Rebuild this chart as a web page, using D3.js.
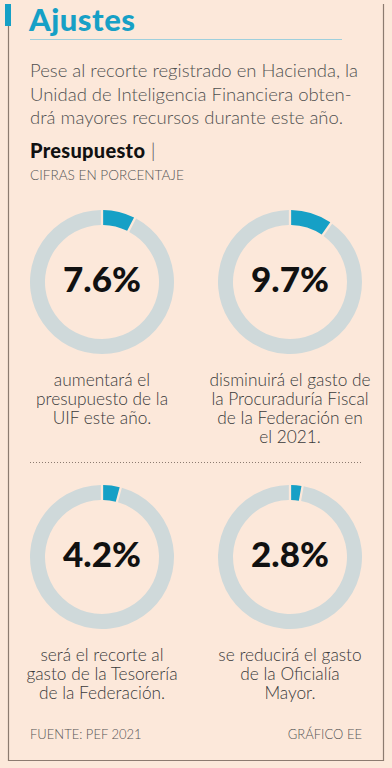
<!DOCTYPE html>
<html><head><meta charset="utf-8">
<script src="https://cdn.jsdelivr.net/npm/d3@7"></script>
<style>
html,body{margin:0;padding:0;background:#fce8da;}
svg{display:block;}
</style></head>
<body>
<svg id="c" width="392" height="768"></svg>
<script>
const categories = ["UIF", "Procuraduría Fiscal", "Tesorería", "Oficialía Mayor"];
const values = [7.6, 9.7, 4.2, 2.8];
const valueLabels = ["7.6%", "9.7%", "4.2%", "2.8%"];
const captions = [
  ["aumentará el", "presupuesto de la", "UIF este año."],
  ["disminuirá el gasto de", "la Procuraduría Fiscal", "de la Federación en", "el 2021."],
  ["será el recorte al", "gasto de la Tesorería", "de la Federación."],
  ["se reducirá el gasto", "de la Oficialía", "Mayor."]
];
const title = "Ajustes";
const intro = ["Pese al recorte registrado en Hacienda, la", "Unidad de Inteligencia Financiera obten-", "drá mayores recursos durante este año."];

const svg = d3.select("#c");
const FONT = "Lato, 'Open Sans', sans-serif";
const teal = "#16a0c6", grey = "#cfd9da", bg = "#fce8da", frame = "#8c7b70";

svg.append("rect").attr("width",392).attr("height",768).attr("fill",bg);
// frame
svg.append("path").attr("d","M8.5,26 V760.5 H383.5 V4").attr("fill","none").attr("stroke",frame).attr("stroke-width",1.2);
svg.append("rect").attr("x",5).attr("y",4).attr("width",6).attr("height",22).attr("fill",teal);

svg.append("text").attr("x",29).attr("y",31).text(title)
  .attr("font-family",FONT).attr("font-weight",900).attr("font-size",31).attr("letter-spacing",0.5).attr("fill",teal);
svg.append("line").attr("x1",30).attr("x2",342).attr("y1",39.5).attr("y2",39.5).attr("stroke","#9fcfdc").attr("stroke-width",1);

svg.append("g").selectAll("text").data(intro).join("text")
  .attr("x",30).attr("y",(d,i)=>77+i*23.5).text(d=>d)
  .attr("font-family",FONT).attr("font-size",18.5).attr("fill","#505050").attr("font-weight",300);

svg.append("text").attr("x",30).attr("y",158)
  .attr("font-family",FONT).attr("font-size",20).attr("fill","#111")
  .call(t=>{t.append("tspan").attr("font-weight",900).attr("letter-spacing",0.3).text("Presupuesto");
            t.append("tspan").attr("font-weight",300).attr("fill","#555").text(" |");});
svg.append("text").attr("x",30).attr("y",180).text("CIFRAS EN PORCENTAJE")
  .attr("font-family",FONT).attr("font-size",13.6).attr("fill","#555").attr("font-weight",300);

// dotted separator
svg.append("line").attr("x1",30).attr("x2",363).attr("y1",462.5).attr("y2",462.5)
  .attr("stroke","#8c7b70").attr("stroke-width",1).attr("stroke-dasharray","1,2");

const xPos = d3.scalePoint().domain([0,1]).range([102,290]);
const yPos = d3.scalePoint().domain([0,1]).range([282,557]);
const outerR = 72, innerR = 57;
const pie = d3.pie().sort(null).value(d=>d);
const arc = d3.arc().innerRadius(innerR).outerRadius(outerR).padAngle(0.025);

values.forEach((v,i)=>{
  const cx = xPos(i%2), cy = yPos(Math.floor(i/2));
  const g = svg.append("g").attr("transform",`translate(${cx},${cy})`);
  g.selectAll("path").data(pie([v,100-v])).join("path")
    .attr("d",arc).attr("fill",(d,j)=>j===0?teal:grey);
  g.append("text").attr("text-anchor","middle").attr("y",10).text(valueLabels[i])
    .attr("font-family",FONT).attr("font-weight",900).attr("font-size",35).attr("fill","#111");
  g.append("g").selectAll("text").data(captions[i]).join("text")
    .attr("text-anchor","middle").attr("y",(d,j)=>104+j*19).text(d=>d)
    .attr("font-family",FONT).attr("font-size",17.3).attr("fill","#3a3a3a").attr("font-weight",300);
});

svg.append("text").attr("x",30).attr("y",739).text("FUENTE: PEF 2021")
  .attr("font-family",FONT).attr("font-size",13).attr("fill","#555").attr("font-weight",300);
svg.append("text").attr("x",362).attr("y",739).attr("text-anchor","end").text("GRÁFICO EE")
  .attr("font-family",FONT).attr("font-size",13).attr("fill","#555").attr("font-weight",300);
</script>
</body></html>
